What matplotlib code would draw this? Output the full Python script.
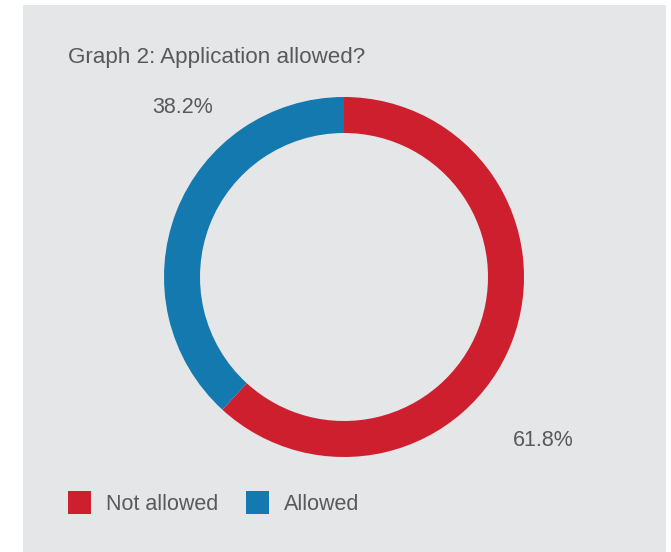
import matplotlib
matplotlib.use("Agg")
import matplotlib.pyplot as plt
from matplotlib.patches import Rectangle, Patch

# data
categories = ["Not allowed", "Allowed"]
shares = [61.8, 38.2]
colors = ["#CE1F2F", "#1379AE"]
title = "Graph 2: Application allowed?"

W, H = 671, 552
bg = "#E5E6E8"
txt = "#58595B"

plt.rcParams['font.family'] = ['Liberation Sans', 'DejaVu Sans']

fig = plt.figure(figsize=(W / 100, H / 100), dpi=100)
fig.patch.set_facecolor("white")

# grey panel
fig.patches.append(Rectangle((23 / W, 0), (666 - 23) / W, (552 - 5) / H,
                             transform=fig.transFigure, facecolor=bg,
                             edgecolor="none", zorder=-5))

# donut axes: center (344, 277) px, radius 180 px
cx, cy, r = 344, 277, 180
ax = fig.add_axes([(cx - r) / W, (H - cy - r) / H, 2 * r / W, 2 * r / H])
ax.set_facecolor("none")
ax.set_zorder(2)
wedges, _ = ax.pie(shares, colors=colors, startangle=90, counterclock=False,
                   radius=1, wedgeprops=dict(width=0.2, linewidth=0))
ax.set_xlim(-1, 1)
ax.set_ylim(-1, 1)
ax.set_aspect("equal")
ax.axis("off")

# percentage labels
label_pos = [(1.106, -0.906), (-0.897, 0.939)]
for val, (lx, ly) in zip(shares, label_pos):
    ax.text(lx, ly, f"{val}%", ha="center", va="center", fontsize=15.5,
            color=txt, clip_on=False)

fig.text(68 / W, 1 - 58 / H, title, ha="left", va="center", fontsize=16.1,
         color=txt)

handles = [Patch(facecolor=c, edgecolor="none") for c in colors]
fig.legend(handles, categories, loc="center left",
           bbox_to_anchor=(68 / W, 1 - 503 / H), ncol=2, frameon=False,
           fontsize=15.5, labelcolor=txt, handlelength=1.07, handleheight=1.27,
           handletextpad=0.7, columnspacing=1.3, borderpad=0, borderaxespad=0)

fig.savefig("out.png", dpi=100, facecolor=fig.get_facecolor())
